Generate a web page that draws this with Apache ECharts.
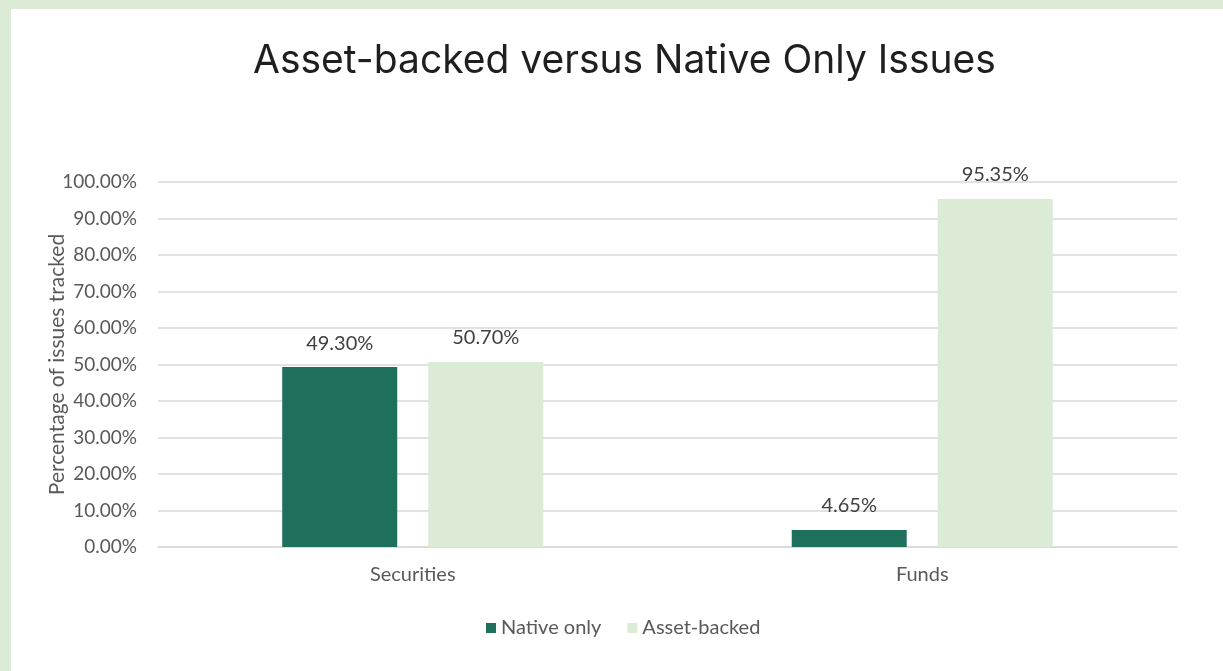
<!DOCTYPE html>
<html>
<head>
<meta charset="utf-8">
<script src="https://cdn.jsdelivr.net/npm/echarts@6/dist/echarts.min.js"></script>
<style>
  html, body { margin: 0; padding: 0; background: #dcebd5; }
  #chart { position: absolute; left: 11px; top: 9px; width: 1212px; height: 662px; background: #fff; }
</style>
</head>
<body>
<div id="chart"></div>
<script>
const categories = ['Securities', 'Funds']
const nativeOnly = [49.30, 4.65]
const assetBacked = [50.70, 95.35]
const seriesNames = ['Native only', 'Asset-backed']

const labelFont = 'Lato, "Liberation Sans", sans-serif'
const textColor = '#595959'

const chart = echarts.init(document.getElementById('chart'))

function barSeries(name, data, color) {
  return {
    name: name,
    type: 'bar',
    data: data,
    barWidth: 115,
    barGap: '27%',
    itemStyle: { color: color },
    label: {
      show: true,
      position: 'top',
      distance: 14,
      formatter: (p) => p.value.toFixed(2) + '%',
      color: '#404040',
      fontSize: 20,
      fontFamily: labelFont
    }
  }
}

chart.setOption({
  animation: false,
  title: {
    text: 'Asset-backed versus Native Only Issues',
    left: 237,
    top: 28,
    textStyle: {
      fontFamily: 'Inter, sans-serif',
      fontSize: 39,
      fontWeight: 'normal',
      color: '#1f1f1f'
    }
  },
  grid: { left: 147, right: 46, top: 173, bottom: 124 },
  legend: {
    bottom: 28,
    left: 470,
    icon: 'rect',
    itemWidth: 10,
    itemHeight: 10,
    itemGap: 26,
    data: seriesNames,
    textStyle: { fontFamily: labelFont, fontSize: 20, color: textColor }
  },
  xAxis: {
    type: 'category',
    data: categories,
    axisTick: { show: false },
    axisLine: { lineStyle: { color: '#d9d9d9', width: 1.5 } },
    axisLabel: { margin: 18, fontFamily: labelFont, fontSize: 20, color: textColor }
  },
  yAxis: {
    type: 'value',
    min: 0,
    max: 100,
    interval: 10,
    name: 'Percentage of issues tracked',
    nameLocation: 'middle',
    nameGap: 90,
    nameMoveOverlap: false,
    nameTextStyle: { fontFamily: labelFont, fontSize: 21, color: textColor },
    axisLabel: {
      margin: 21,
      formatter: (v) => v.toFixed(2) + '%',
      fontFamily: labelFont,
      fontSize: 19,
      color: textColor
    },
    splitLine: { lineStyle: { color: '#d9d9d9', width: 1.5 } }
  },
  series: [
    barSeries(seriesNames[0], nativeOnly, '#1e6f5c'),
    barSeries(seriesNames[1], assetBacked, '#dcebd5')
  ]
})
</script>
</body>
</html>
